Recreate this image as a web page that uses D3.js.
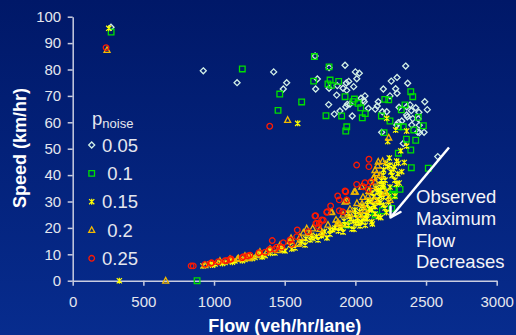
<!DOCTYPE html>
<html>
<head>
<meta charset="utf-8">
<script src="https://cdn.jsdelivr.net/npm/d3@7"></script>
<style>
  html, body { margin: 0; padding: 0; background: #00196a; }
  svg { display: block; font-family: "Liberation Sans", Arial, sans-serif; }
</style>
</head>
<body>
<div id="chart"></div>
<script>
// axis ticks
const xTicks = [0, 500, 1000, 1500, 2000, 2500, 3000];
const yTicks = [0, 10, 20, 30, 40, 50, 60, 70, 80, 90, 100];

// legend
const legendLabels = ["0.05", "0.1", "0.15", "0.2", "0.25"];

// [flow, speed]
const noise05 = [
  [271,96.0],[924,79.5],[1163,75.0],[1422,79.1],[1514,75.0],[1490,72.6],[1715,85.1],[1731,76.4],
  [1719,72.6],[1814,80.7],[1927,81.6],[2000,79.1],[2028,78.6],[2010,76.5],[1953,75.5],[1936,74.9],
  [1913,72.9],[1988,73.5],[1872,73.9],[1814,72.9],[1868,70.3],[1939,72.1],[2068,70.0],[2040,69.1],
  [1962,66.9],[1932,65.9],[1943,66.8],[2063,67.8],[2092,65.3],[1891,64.3],[1851,63.1],[1978,62.4],
  [1811,66.7],[2356,81.3],[2254,75.6],[2295,77.0],[2370,74.8],[2198,72.6],[2285,72.7],[2295,71.0],
  [2245,70.0],[2162,67.8],[2155,66.2],[2141,65.0],[2191,64.0],[2309,65.7],[2363,65.9],[2427,65.5],
  [2396,64.4],[2491,67.8],[2509,64.8],[2450,63.8],[2368,62.1],[2406,61.4],[2445,61.3],[2328,60.5],
  [2453,56.1],[2486,56.2],[2186,56.2],[2339,52.0],[2583,47.0],[2399,59.0],[2452,58.9],[2293,59.0],
  [2304,59.9],[2441,56.3],[2222,64.0],[2387,66.6],[2363,62.8],[2056,68.4]
];
const noise10 = [
  [272,94.2],[1200,80.2],[1710,84.9],[1814,81.0],[1705,75.6],[1821,76.0],[1830,74.0],[1882,75.5],
  [1806,74.5],[1465,70.7],[1620,67.7],[1453,64.5],[1792,62.5],[1903,62.4],[1939,58.3],[1932,56.7],
  [1927,69.7],[1993,68.8],[1983,67.8],[2019,67.2],[2038,65.5],[2070,63.3],[2049,61.7],[2392,71.6],
  [2406,69.7],[2208,68.7],[2236,68.5],[2351,66.6],[2325,64.7],[2184,62.4],[2245,60.5],[2445,61.9],
  [2481,58.7],[2413,57.1],[2339,58.3],[2304,58.3],[2203,56.1],[2361,53.6],[2427,53.2],[2392,49.5],
  [2396,42.8],[2516,42.6],[2269,34.6],[2316,34.6],[2273,32.2],[2191,26.5],[2104,26.1],[880,0],
  [2198,34.1],[2257,27.4],[2033,23.6],[2304,48.3],[2261,32.8],[1939,21.1],[2139,24.9]
];
const noise15 = [
  [255,95.6],[330,0],[1592,59.6],[2222,61.5],[2285,57.1],[2363,56.7],[2229,52.7],[2321,49.2],
  [2363,51.0],[2292,45.3],[2346,44.8],[2229,43.2],[2276,43.2],[2328,41.3],[2304,44.5],[2268,42.2],
  [2245,43.8],[2198,40.0],[2210,38.1],[2198,35.6],[2222,33.7],[2233,31.8],[2186,32.5],[2162,29.9],
  [2139,28.0],[2116,26.8],[2092,25.5],[2068,23.6],[2045,22.3],[2021,21.7],[2198,28.7],[2162,24.2],
  [2116,22.3],[2198,36.3],[2162,34.4],[2198,31.6],[2174,29.5],[2004,21.7],[1962,23.3],[2056,23.6],
  [1891,20.5],[1821,19.2],[1773,17.7],[1726,16.7],[1679,15.4],[1608,14.2],[1538,13.5],[1467,12.4],
  [1396,11.3],[1325,10.1],[1254,9.2],[1184,8.2],[1113,7.5],[1042,6.9],[972,6.3],[1927,21.1],
  [1856,20.0],[1948,25.6],[1997,26.8],[2047,28.3],[2089,30.6],[2118,33.2],[2146,35.1],[2174,36.6],
  [2252,41.2],[2280,38.1],[2245,35.5],[2280,32.1],[2210,27.5],[2139,25.3],[2082,23.4],[2033,20.7],
  [1976,19.6],[1913,18.4],[1799,16.2],[1736,15.4],[1644,13.5],[1573,12.4],[1502,11.3],[1431,10.5],
  [1361,9.5],[1290,8.8],[1219,8.0],[1148,7.5],[1078,6.9],[1007,6.3],[922,5.6],
  [1620,14.8],[1650,15.9],[1700,16.0],[1690,17.2],[1760,17.0],[1780,18.6],[1820,17.6],[1840,19.3],
  [1870,21.6],[1880,18.8],[1900,20.0],[1920,22.6],[1950,21.0],[1960,24.3],[1985,22.4],[2000,25.0],
  [2015,23.5],[2030,26.2],[2040,24.6],[2060,27.5],[2075,25.0],[2085,28.8],[2100,27.2],[2110,30.0],
  [2125,28.6],[2130,31.8],[2150,30.5],[2155,33.5],[2170,32.0],[2180,34.2],[2185,38.0],[2200,42.0],
  [2215,44.5],[2240,46.5],[2260,39.8],[2290,36.5],[2235,29.8],[2220,25.8],[2180,23.9],[2120,21.5],
  [2070,21.0],[1990,19.5],[1550,12.0],[1480,11.6],[1400,10.4],[1340,9.0],[1270,8.4],[1200,7.6],
  [1130,7.0],[1060,6.5],[990,5.9],[2310,37.0],[2300,40.5]
];
const noise20 = [
  [243,87.4],[658,0],[1521,60.9],[2236,54.2],[2193,45.3],[2158,43.6],[2162,45.1],[2139,41.9],
  [2151,40.7],[2132,39.2],[2127,38.8],[2139,37.5],[2045,35.6],[2000,33.7],[1992,33.7],[1939,30.3],
  [1927,29.9],[1828,25.9],[1833,26.1],[1656,19.8],[1632,18.2],[1698,19.8],[1545,16.1],[1373,10.8],
  [1302,9.7],[1254,9.1],[1172,8.5],[1453,11.6],[1594,13.9],[1764,18.1],[1877,22.2],[1962,25.3],
  [2047,29.1],[2089,32.1],[936,5.9],[1242,8.5],[1165,8.2],
  [1750,19.6],[1806,21.2],[1863,23.1],[1913,25.0],[1962,27.2],[2011,29.4],[2054,31.7],[2096,34.0],
  [2118,35.9],[2174,40.0],[1679,18.1],[1608,16.5],[1538,15.0],[1467,13.5],[1396,12.0],[1325,10.9],
  [1219,9.4],[1113,8.2],[1042,7.5],[1891,21.4],[2068,26.8],[2139,30.6],[2210,33.2],[2245,30.6],
  [2033,24.9]
];
const noise25 = [
  [236,88.3],[1394,58.5],[2096,46.0],[2009,43.8],[2096,43.2],[2092,34.6],[2068,37.1],[2111,37.5],
  [2009,36.5],[2056,35.6],[1927,34.0],[1932,33.7],[1875,32.1],[1886,30.6],[1939,30.6],[1825,28.3],
  [1801,26.1],[1886,26.5],[1910,26.1],[1714,24.5],[1762,23.0],[1745,21.7],[1721,21.7],[1738,20.5],
  [1589,19.2],[1797,25.9],[1719,24.6],[1585,16.7],[1667,18.6],[1490,14.4],[1538,15.4],[1550,13.8],
  [1479,12.7],[1431,11.9],[1443,12.7],[1412,15.2],[1396,11.9],[1361,10.8],[1318,10.6],[1254,9.7],
  [1238,9.4],[1207,9.1],[1200,8.7],[1120,8.2],[1113,8.1],[1090,7.6],[1078,7.6],[1030,7.2],
  [983,6.8],[978,6.6],[936,6.2],[853,5.6],[838,5.6],[1773,22.9],[1726,21.7]
];

const noteLines = ["Observed", "Maximum", "Flow", "Decreases"];

const width = 516, height = 335;

const svg = d3
  .select("#chart")
  .append("svg")
  .attr("width", width)
  .attr("height", height);

const grad = svg.append("defs").append("linearGradient")
  .attr("id", "bg").attr("x1", 0).attr("y1", 0).attr("x2", 0).attr("y2", 1);
grad.append("stop").attr("offset", "0%").attr("stop-color", "#001868");
grad.append("stop").attr("offset", "100%").attr("stop-color", "#072c8e");
svg.append("rect").attr("width", width).attr("height", height).attr("fill", "url(#bg)");

const x = d3.scaleLinear().domain([0, 3000]).range([72.7, 496.7]);
const y = d3.scaleLinear().domain([0, 100]).range([280.7, 16.7]);

const axisColor = "#c9cde0";
const labelColor = "#e4e6ee";

const xAxis = svg.append("g")
  .attr("transform", `translate(0,${y(0)})`)
  .call(d3.axisBottom(x).tickValues(xTicks).tickFormat(d3.format("d"))
    .tickSize(5).tickSizeOuter(0).tickPadding(11));
const yAxis = svg.append("g")
  .attr("transform", `translate(${x(0)},0)`)
  .call(d3.axisLeft(y).tickValues(yTicks).tickSize(5).tickSizeOuter(0).tickPadding(6.5));

[xAxis, yAxis].forEach((a) => {
  a.select(".domain").attr("stroke", axisColor).attr("stroke-width", 1.5);
  a.selectAll(".tick line").attr("stroke", axisColor).attr("stroke-width", 1.5);
  a.selectAll(".tick text")
    .attr("fill", labelColor)
    .style("font-size", "15px")
    .style("font-family", "'Liberation Sans', Arial, sans-serif");
});

// axis titles
svg.append("text")
  .attr("x", 284.7).attr("y", 331.5)
  .attr("text-anchor", "middle")
  .attr("fill", "#ffffff")
  .style("font-size", "18px").style("font-weight", "bold")
  .text("Flow (veh/hr/lane)");
svg.append("text")
  .attr("transform", "translate(25.5,148) rotate(-90)")
  .attr("text-anchor", "middle")
  .attr("fill", "#ffffff")
  .style("font-size", "18px").style("font-weight", "bold")
  .text("Speed (km/hr)");

// marker painters
const markers = [
  { data: noise05, color: "#d2f0e6", shape: "diamond" },
  { data: noise10, color: "#00e000", shape: "square" },
  { data: noise15, color: "#ffff00", shape: "star" },
  { data: noise20, color: "#f2b800", shape: "triangle" },
  { data: noise25, color: "#ff1a00", shape: "circle" },
];

const shapePath = {
  diamond: "M0,-3L3,0L0,3L-3,0Z",
  square: "M-2.8,-2.8H2.8V2.8H-2.8Z",
  triangle: "M0,-3.2L3,2.4H-3Z",
  circle: "M2.8,0A2.8,2.8 0 1,1 -2.8,0A2.8,2.8 0 1,1 2.8,0Z",
  star: "M-2.6,-2.6L2.6,2.6M2.6,-2.6L-2.6,2.6M0,-3V3",
};

function drawMarker(sel, m) {
  sel.append("path")
    .attr("d", shapePath[m.shape])
    .attr("fill", "none")
    .attr("stroke", m.color)
    .attr("stroke-width", m.shape === "star" ? 1.2 : 1.3);
}

markers.forEach((m) => {
  svg.append("g")
    .selectAll("g")
    .data(m.data)
    .enter()
    .append("g")
    .attr("transform", (d) => `translate(${x(d[0])},${y(d[1])})`)
    .each(function () { drawMarker(d3.select(this), m); });
});

// legend
const legend = svg.append("g").attr("fill", labelColor);
const title = legend.append("text").attr("x", 92).attr("y", 124.5).style("font-size", "18.5px");
title.append("tspan").text("p");
title.append("tspan").attr("dy", 3.2).style("font-size", "13px").text("noise");

legendLabels.forEach((lab, i) => {
  const cy = 145 + i * 28.33;
  const g = legend.append("g").attr("transform", `translate(91.7,${cy})`);
  drawMarker(g, markers[i]);
  legend.append("text")
    .attr("x", 120).attr("y", cy + 6.6)
    .attr("text-anchor", "middle")
    .style("font-size", "18.5px")
    .text(lab);
});

// annotation arrow + text
svg.append("line")
  .attr("x1", 449).attr("y1", 147.5)
  .attr("x2", 390.5).attr("y2", 217.5)
  .attr("stroke", "#ffffff").attr("stroke-width", 2.5);
svg.append("path")
  .attr("d", "M390.5,217.5L390.5,206.5M390.5,217.5L400.5,212")
  .attr("stroke", "#ffffff").attr("stroke-width", 2.5)
  .attr("fill", "none").attr("stroke-linecap", "round");

svg.append("g").selectAll("text")
  .data(noteLines)
  .enter()
  .append("text")
  .attr("x", 416)
  .attr("y", (d, i) => 203.3 + i * 21.7)
  .attr("fill", "#f4f4f8")
  .style("font-size", "18.5px")
  .text((d) => d);
</script>
</body>
</html>
